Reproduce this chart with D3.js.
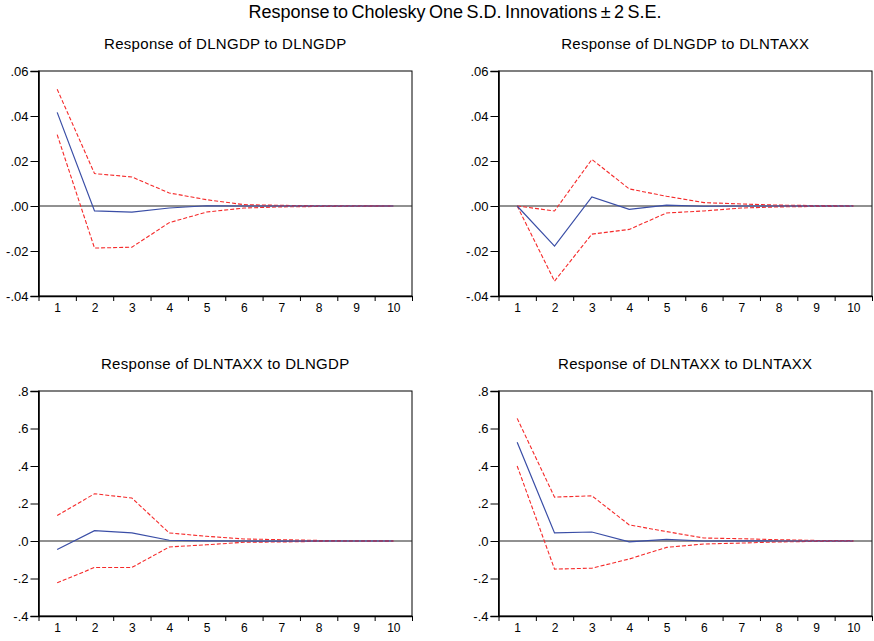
<!DOCTYPE html>
<html>
<head>
<meta charset="utf-8">
<script src="https://cdn.jsdelivr.net/npm/d3@7"></script>
<style>
  body { margin: 0; background: #fff; }
  svg { display: block; font-family: "Liberation Sans", Arial, sans-serif; }
  .axis path, .axis line { stroke: #000; }
  .axis text { font-family: "Liberation Sans", Arial, sans-serif; font-size: 12px; fill: #000; }
  .axis.y text { font-size: 13px; }
</style>
</head>
<body>
<script>
// periods 1..10
var periods = [1, 2, 3, 4, 5, 6, 7, 8, 9, 10];

// Response of DLNGDP to DLNGDP
var gdpGdp   = [0.0416, -0.0022, -0.0027, -0.0009, 0.0001, 0.0000, 0.0000, 0.0000, 0.0000, 0.0000];
var gdpGdpHi = [0.0519, 0.0144, 0.0129, 0.0058, 0.0028, 0.0006, 0.0003, 0.0001, 0.0001, 0.0000];
var gdpGdpLo = [0.0317, -0.0187, -0.0183, -0.0074, -0.0027, -0.0009, -0.0004, -0.0002, -0.0001, 0.0000];

// Response of DLNGDP to DLNTAXX
var gdpTax   = [0.0000, -0.0178, 0.0040, -0.0015, 0.0004, -0.0001, 0.0000, 0.0000, 0.0000, 0.0000];
var gdpTaxHi = [0.0000, -0.0022, 0.0207, 0.0076, 0.0043, 0.0015, 0.0009, 0.0004, 0.0002, 0.0001];
var gdpTaxLo = [0.0000, -0.0334, -0.0125, -0.0104, -0.0031, -0.0022, -0.0009, -0.0004, -0.0002, -0.0001];

// Response of DLNTAXX to DLNGDP
var taxGdp   = [-0.045, 0.055, 0.043, 0.004, 0.001, 0.000, -0.001, 0.000, 0.000, 0.000];
var taxGdpHi = [0.136, 0.252, 0.229, 0.043, 0.025, 0.011, 0.007, 0.003, 0.001, 0.0005];
var taxGdpLo = [-0.223, -0.141, -0.141, -0.032, -0.020, -0.007, -0.005, -0.002, -0.001, -0.0005];

// Response of DLNTAXX to DLNTAXX
var taxTax   = [0.527, 0.043, 0.048, -0.005, 0.009, 0.000, 0.001, 0.000, 0.000, 0.000];
var taxTaxHi = [0.654, 0.234, 0.241, 0.086, 0.050, 0.016, 0.012, 0.007, 0.003, 0.002];
var taxTaxLo = [0.400, -0.150, -0.145, -0.096, -0.034, -0.016, -0.011, -0.005, -0.002, -0.001];

var ticksGdp = [-0.04, -0.02, 0, 0.02, 0.04, 0.06];
var ticksTax = [-0.4, -0.2, 0, 0.2, 0.4, 0.6, 0.8];

var W = 874, H = 641;

var svg = d3.select("body").append("svg")
    .attr("width", W)
    .attr("height", H);

svg.append("text")
    .attr("x", 455)
    .attr("y", 18)
    .attr("text-anchor", "middle")
    .style("font-size", "18px")
    .style("word-spacing", "-1.5px")
    .text("Response to Cholesky One S.D. Innovations \u00b1 2 S.E.");

var panels = [
    { title: "Response of DLNGDP to DLNGDP", mid: gdpGdp, hi: gdpGdpHi, lo: gdpGdpLo, ticks: ticksGdp, dec: 2, x0: 38.5, y0: 71 },
    { title: "Response of DLNGDP to DLNTAXX", mid: gdpTax, hi: gdpTaxHi, lo: gdpTaxLo, ticks: ticksGdp, dec: 2, x0: 498.5, y0: 71 },
    { title: "Response of DLNTAXX to DLNGDP", mid: taxGdp, hi: taxGdpHi, lo: taxGdpLo, ticks: ticksTax, dec: 1, x0: 38.5, y0: 391 },
    { title: "Response of DLNTAXX to DLNTAXX", mid: taxTax, hi: taxTaxHi, lo: taxTaxLo, ticks: ticksTax, dec: 1, x0: 498.5, y0: 391 }
];

var pw = 373.5, ph = 225;

// eviews style labels: ".04", "-.02", ".0"
function fmt(dec) {
    return function (v) {
        var s = Math.abs(v).toFixed(dec).replace(/^0/, "");
        return (v < -1e-9 ? "-" : "") + s;
    };
}

panels.forEach(function (p) {
    var g = svg.append("g").attr("transform", "translate(" + p.x0 + "," + p.y0 + ")");

    var x = d3.scaleLinear().domain([0.5, 10.5]).range([0, pw]);
    var y = d3.scaleLinear().domain(d3.extent(p.ticks)).range([ph, 0]);

    g.append("text")
        .attr("x", pw / 2)
        .attr("y", -22)
        .attr("text-anchor", "middle")
        .style("font-size", "15px")
        .style("letter-spacing", "0.3px")
        .text(p.title);

    // frame
    g.append("rect")
        .attr("width", pw)
        .attr("height", ph)
        .attr("fill", "none")
        .attr("stroke", "#000")
        .attr("stroke-width", 1);

    // y axis
    var ya = g.append("g").attr("class", "axis y")
        .call(d3.axisLeft(y).tickValues(p.ticks).tickFormat(fmt(p.dec)).tickSize(8).tickPadding(2));
    ya.select(".domain").attr("stroke-width", 1.6);

    // x axis: marks between periods, labels at periods
    var xa = g.append("g").attr("class", "axis")
        .attr("transform", "translate(0," + ph + ")")
        .call(d3.axisBottom(x).tickValues(d3.range(0.5, 11, 1)).tickFormat("").tickSize(5).tickSizeOuter(0));
    xa.select(".domain").attr("stroke-width", 1.6);
    g.append("g").attr("class", "axis")
        .attr("transform", "translate(0," + ph + ")")
        .call(d3.axisBottom(x).tickValues(periods).tickSize(0).tickPadding(7))
        .select(".domain").remove();

    // zero line
    g.append("line")
        .attr("x1", 0).attr("x2", pw)
        .attr("y1", y(0)).attr("y2", y(0))
        .attr("stroke", "#222")
        .attr("stroke-width", 1);

    var line = d3.line()
        .x(function (d, i) { return x(periods[i]); })
        .y(function (d) { return y(d); });

    [p.hi, p.lo].forEach(function (band) {
        g.append("path")
            .datum(band)
            .attr("d", line)
            .attr("fill", "none")
            .attr("stroke", "#f52a2a")
            .attr("stroke-width", 1.1)
            .attr("stroke-dasharray", "4,2");
    });

    g.append("path")
        .datum(p.mid)
        .attr("d", line)
        .attr("fill", "none")
        .attr("stroke", "#3a4ea6")
        .attr("stroke-width", 1.2);
});
</script>
</body>
</html>
